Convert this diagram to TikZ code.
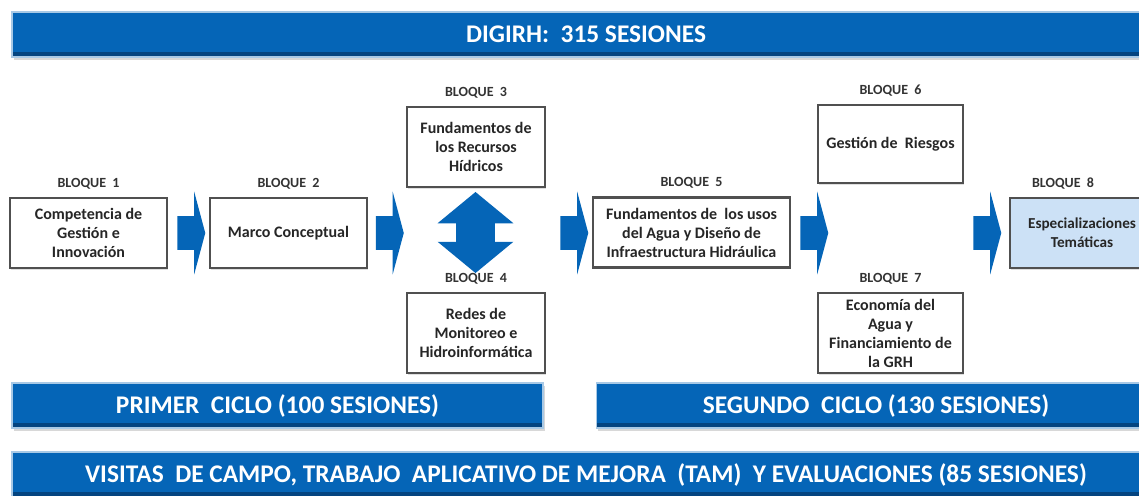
\documentclass[tikz,border=0pt]{standalone}
\usepackage{fontspec}
\setmainfont{Carlito}
\usetikzlibrary{positioning,shapes.arrows,shadows}

\definecolor{digiblue}{RGB}{5,101,183}
\definecolor{digidark}{RGB}{4,68,128}
\definecolor{boxblue}{RGB}{204,225,246}
\definecolor{boxline}{RGB}{80,80,80}

\tikzset{
  banner/.style={fill=digiblue, draw=digiblue!35, line width=0.6pt, text=white,
    font=\fontsize{12.7}{14}\selectfont\bfseries, minimum height=22.5pt, inner sep=0pt,
    drop shadow={shadow xshift=0.8pt, shadow yshift=-1.5pt, fill=black!30},
    path picture={\fill[digidark] ([yshift=2.5pt]path picture bounding box.south west)
      rectangle (path picture bounding box.south east);}},
  bloque/.style={draw=boxline, line width=1.4pt, fill=white, align=center,
    font=\fontsize{8}{9.5}\selectfont\bfseries, text=black!85, inner sep=1pt,
    drop shadow={shadow xshift=0.6pt, shadow yshift=-0.8pt, fill=black!25}},
  etiqueta/.style={font=\fontsize{7}{8}\selectfont\bfseries, text=black!80, inner sep=1pt},
  flecha/.style={single arrow, fill=digiblue, inner xsep=0pt, inner ysep=8.25pt,
    minimum height=14pt, single arrow head extend=12.25pt, single arrow tip angle=150,
    text height=0pt, text depth=0pt},
  dobleflecha/.style={double arrow, fill=digiblue, rotate=90, inner xsep=0pt, inner ysep=9.5pt,
    minimum height=40.5pt, double arrow head extend=9.25pt, double arrow tip angle=101,
    text height=0pt, text depth=0pt}
}

\begin{document}
\begin{tikzpicture}[x=0.5pt, y=-0.5pt]
    \useasboundingbox (0,0) rectangle (1139,495);
    \clip (0,0) rectangle (1139,495);
    % Top banner
    \node[banner, minimum width=574pt] (total) at (586,34.5) {DIGIRH:\ \ 315 SESIONES};
    % First cycle blocks
    \node[bloque, minimum width=78.5pt, minimum height=35pt] (b1) at (88.5,233)
        {Competencia de\\Gestión e\\Innovación};
    \node[bloque, minimum width=78.5pt, minimum height=35pt] (b2) at (288.5,233) {Marco Conceptual};
    \node[bloque, minimum width=69pt, minimum height=40pt] (b3) at (476,147)
        {Fundamentos de\\los Recursos\\Hídricos};
    \node[bloque, minimum width=69pt, minimum height=40pt] (b4) at (476,333)
        {Redes de\\Monitoreo e\\Hidroinformática};
    % Second cycle blocks
    \node[bloque, minimum width=98.5pt, minimum height=35pt] (b5) at (691.5,232.5)
        {Fundamentos de\ \ los usos\\del Agua y Diseño de\\Infraestructura Hidráulica};
    \node[bloque, minimum width=72.5pt, minimum height=39pt] (b6) at (890.5,144) {Gestión de\ \ Riesgos};
    \node[bloque, minimum width=72.5pt, minimum height=40pt] (b7) at (890.5,333)
        {Economía del\\Agua y\\Financiamiento de\\la GRH};
    \node[bloque, fill=boxblue, font=\fontsize{7.6}{9.5}\selectfont\bfseries,
        minimum width=72pt, minimum height=35pt] (b8) at (1082,233)
        {Especializaciones\\Temáticas};
    % Block labels
    \foreach \n in {1,...,7}
        \node[etiqueta, above=2.5pt of b\n] (l\n) {BLOQUE\ \ \n};
    \node[etiqueta, above=2.5pt of b8, xshift=-9.5pt] (l8) {BLOQUE\ \ 8};
    % Block arrows
    \node[flecha] (f1) at (189,233) {};
    \node[flecha] (f2) at (387.5,233) {};
    \node[dobleflecha] (f34) at (475.5,232.5) {};
    \node[flecha] (f3) at (572,233) {};
    \node[flecha] (f4) at (812,233) {};
    \node[flecha] (f5) at (985,233) {};
    % Cycle banners
    \node[banner, minimum width=265.5pt] (ciclo1) at (277.5,405.5) {PRIMER\ \ CICLO (100 SESIONES)};
    \node[banner, minimum width=279.5pt] (ciclo2) at (876,405.5) {SEGUNDO\ \ CICLO (130 SESIONES)};
    \node[banner, minimum width=574pt] (visitas) at (586,474.5)
        {VISITAS\ \ DE CAMPO, TRABAJO\ \ APLICATIVO DE MEJORA\ \ (TAM)\ \ Y EVALUACIONES (85 SESIONES)};
\end{tikzpicture}
\end{document}
